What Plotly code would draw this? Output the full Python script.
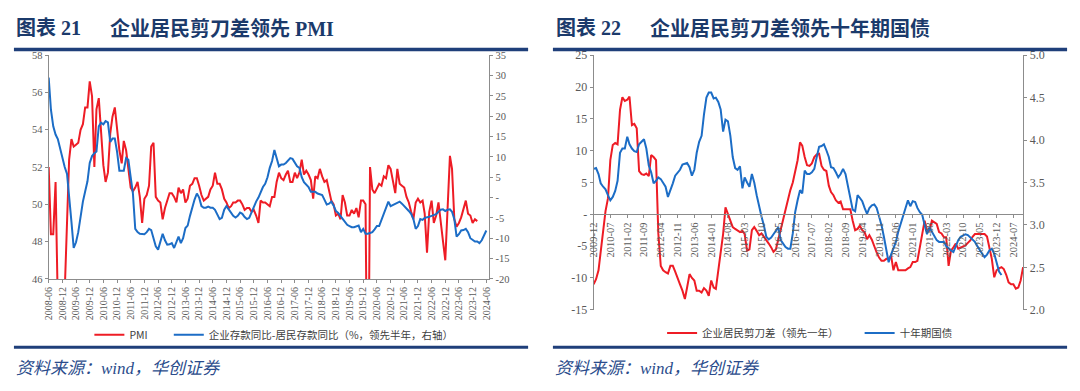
import plotly.graph_objects as go
import pandas as pd

# ---------------- data: left panel (图表21) ----------------
pmi_start = "2008-06-01"
pmi = [52.0, 48.4, 48.4, 51.2, 44.6, 38.8, 41.2,
       45.3, 49.0, 52.4, 53.5, 53.1, 53.2, 53.3, 54.0, 54.3, 55.2, 55.2, 56.6,
       55.8, 52.0, 55.1, 55.7, 53.9, 52.1, 51.2, 51.7, 53.8, 54.7, 55.2, 53.9,
       52.9, 52.2, 53.4, 52.9, 52.0, 50.9, 50.7, 50.9, 51.2, 50.4, 49.0, 50.3,
       50.5, 51.0, 53.1, 53.3, 50.4, 50.2, 50.1, 49.2, 49.8, 50.2, 50.6, 50.6,
       50.4, 50.1, 50.9, 50.6, 50.8, 50.1, 50.3, 51.0, 51.1, 51.4, 51.4, 51.0,
       50.5, 50.2, 50.3, 50.4, 50.8, 51.0, 51.7, 51.1, 51.1, 50.8, 50.3, 50.1,
       49.8, 49.9, 50.1, 50.1, 50.2, 50.2, 50.0, 49.7, 49.8, 49.8, 49.6, 49.7,
       49.4, 49.0, 50.2, 50.1, 50.1, 50.0, 49.9, 50.4, 50.4, 51.2, 51.7, 51.4,
       51.3, 51.6, 51.8, 51.2, 51.2, 51.7, 51.4, 51.7, 52.4, 51.6, 51.8, 51.6,
       51.3, 50.3, 51.5, 51.4, 51.9, 51.5, 51.2, 51.3, 50.8, 50.2, 50.0, 49.4,
       49.5, 49.2, 50.5, 50.1, 49.4, 49.4, 49.7, 49.5, 49.8, 49.3, 50.2, 50.2,
       50.0, 35.7, 52.0, 50.8, 50.6, 50.9, 51.1, 51.0, 51.5, 51.4, 52.1, 51.9,
       51.3, 50.6, 51.9, 51.1, 51.0, 50.9, 50.4, 50.1, 49.6, 49.2, 50.1, 50.3,
       50.1, 50.2, 49.5, 47.4, 49.6, 50.2, 49.0, 49.4, 50.1, 49.2, 48.0, 47.0,
       50.1, 52.6, 51.9, 49.2, 48.8, 49.0, 49.3, 49.7, 50.2, 49.5, 49.4, 49.0,
       49.2, 49.1]

gap_start = "2008-06-01"
deposit_gap = [29.5, 21.6, 17.5, 15.5, 14.4, 12.0, 9.7, 7.5, 5.8, 1.0,
               -6.0, -12.4, -11.0, -8.5, -4.5, -1.0, 1.5, 4.0, 8.5, 10.2,
               10.9, 11.3, 17.5, 18.4, 18.0, 18.8, 18.5, 13.7, 14.5, 14.5,
               11.3, 6.6, 6.6, 6.6, 9.7, 9.3, 5.0, 1.0, -7.7, -8.5,
               -8.9, -9.0, -9.0, -8.5, -7.7, -8.0, -10.0, -12.0, -12.8, -10.5,
               -8.9, -10.5, -11.6, -11.5, -11.2, -12.4, -11.0, -9.6, -11.2, -10.0,
               -7.5, -6.9, -4.5, -2.1, -0.5, 1.0, 0.0, -2.1, -2.5, -2.5,
               -2.2, -2.5, -2.5, -3.0, -4.0, -5.3, -5.0, -3.0, -2.1, -3.0,
               -4.0, -4.5, -4.9, -4.5, -3.7, -4.0, -4.8, -5.3, -5.0, -3.5,
               -2.1, -1.0, 0.0, 1.5, 2.6, 3.4, 5.0, 7.3, 9.0, 11.7,
               10.0, 7.7, 8.1, 8.1, 8.5, 9.2, 9.7, 9.5, 8.5, 7.7,
               7.3, 5.0, 3.8, 3.2, 2.6, 1.4, 1.4, 1.4, 1.0, 0.8,
               0.6, -0.5, -1.7, -1.5, -1.0, -2.0, -3.3, -3.8, -4.5, -5.3,
               -6.1, -6.7, -7.0, -7.3, -7.3, -7.0, -6.9, -8.5, -7.7, -8.9,
               -8.9, -8.7, -8.5, -7.8, -7.0, -7.0, -5.5, -4.1, -2.5, -1.0,
               -2.1, -1.8, -1.5, -1.2, -1.0, -1.5, -2.1, -2.5, -3.3, -4.0,
               -5.3, -7.7, -7.0, -5.3, -5.5, -5.0, -4.9, -4.7, -4.5, -4.3,
               -4.1, -3.5, -3.0, -2.9, -3.3, -3.0, -2.9, -3.5, -5.3, -9.6,
               -9.0, -8.1, -8.0, -7.7, -8.5, -10.0, -10.5, -10.8, -10.8, -11.2,
               -10.5, -9.3, -8.1]

left_y_ticks = [46, 48, 50, 52, 54, 56, 58]
right_y_ticks = [-20, -15, -10, -5, 0, 5, 10, 15, 20, 25, 30, 35]
right_y_text = ["-20", "-15", "-10", "-5", "-", "5", "10", "15", "20", "25", "30", "35"]

# ---------------- data: right panel (图表22) ----------------
right_start = "2009-12-01"
scissor_lead = [-11.0, -10.2, -8.8, -6.0, -3.0, 0.5, 2.5, 8.5, 10.9, 11.2,
                11.0, 16.4, 18.4, 17.8, 18.0, 18.5, 14.0, 14.2, 13.5, 6.8,
                6.3, 6.2, 6.4, 6.0, 9.3, 9.0, 8.5, -3.0, -8.1, -8.8,
                -9.1, -9.3, -8.1, -8.1, -9.0, -9.9, -11.0, -12.0, -13.3, -11.5,
                -9.4, -10.0, -10.4, -12.0, -12.0, -12.3, -11.6, -12.0, -12.8, -10.4,
                -11.5, -11.7, -8.6, -6.2, -3.1, 1.1, 0.0, -1.0, -2.0, -2.3,
                -2.6, -2.8, -2.6, -3.1, -5.7, -5.5, -2.5, -2.0, -2.6, -3.3,
                -3.0, -3.5, -4.0, -4.6, -5.2, -5.9, -5.5, -4.0, -2.5, -1.0,
                1.0, 2.5, 3.8, 5.0, 6.5, 8.5, 11.3, 10.8, 9.0, 7.7,
                7.6, 8.0, 9.0, 9.4, 9.5, 7.6, 7.0, 6.8, 4.5, 3.5,
                3.0, 2.2, 1.8, 2.0, 0.8, 0.8, 0.8, 0.8, -1.0, -2.5,
                -2.3, -1.8, -2.5, -2.8, -3.9, -3.3, -4.0, -5.2, -6.0, -6.8,
                -7.3, -7.3, -7.0, -7.0, -6.5, -8.8, -7.5, -8.8, -8.8, -8.8,
                -8.8, -8.5, -8.3, -7.5, -7.5, -7.3, -5.2, -3.1, -1.0, -2.6,
                -2.6, -1.0, -1.2, -1.5, -2.8, -3.0, -3.6, -3.6, -8.1, -5.7,
                -5.2, -4.6, -5.4, -5.2, -5.0, -4.9, -4.5, -4.1, -3.5, -3.1,
                -3.1, -3.1, -3.1, -3.1, -3.5, -5.2, -7.0, -9.9, -8.8, -8.5,
                -8.3, -8.6, -9.5, -10.7, -11.0, -11.0, -11.7, -11.5, -10.4, -8.3]

cgb10y = [3.66, 3.67, 3.60, 3.49, 3.45, 3.42, 3.35, 3.29, 3.33, 3.40,
          3.52, 3.85, 3.90, 3.90, 4.04, 3.95, 3.90, 3.87, 3.86, 3.95,
          3.98, 4.01, 3.90, 3.70, 3.62, 3.49, 3.52, 3.56, 3.54, 3.50,
          3.45, 3.33, 3.40, 3.49, 3.58, 3.62, 3.65, 3.71, 3.72, 3.73,
          3.68, 3.58, 3.65, 3.85, 3.98, 4.05, 4.30, 4.50, 4.56, 4.56,
          4.49, 4.50, 4.45, 4.36, 4.10, 4.24, 4.22, 4.05, 3.80, 3.67,
          3.65, 3.69, 3.43, 3.56, 3.50, 3.45, 3.60, 3.50, 3.35, 3.20,
          3.10, 2.99, 2.86, 2.83, 2.85, 2.89, 2.93, 2.97, 2.82, 2.78,
          2.74, 2.72, 2.72, 2.90, 3.15, 3.29, 3.41, 3.37, 3.64, 3.60,
          3.60, 3.62, 3.66, 3.80, 3.92, 3.93, 3.95, 3.88, 3.80, 3.68,
          3.67, 3.62, 3.56, 3.60, 3.66, 3.60, 3.45, 3.30, 3.18, 3.16,
          3.35, 3.32, 3.28, 3.20, 3.13, 3.20, 3.23, 3.24, 3.20, 3.10,
          3.00, 2.86, 2.68, 2.56, 2.65, 2.72, 2.80, 2.92, 3.02, 3.12,
          3.20, 3.29, 3.22, 3.28, 3.27, 3.20, 3.15, 3.12, 3.00, 2.89,
          2.97, 2.92, 2.87, 2.82, 2.80, 2.80, 2.80, 2.75, 2.72, 2.70,
          2.68, 2.76, 2.82, 2.86, 2.88, 2.89, 2.88, 2.85, 2.82, 2.80,
          2.75, 2.70, 2.66, 2.62, 2.65, 2.70, 2.72, 2.66, 2.55, 2.45,
          2.41]

r_left_ticks = [-15, -10, -5, 0, 5, 10, 15, 20, 25]
r_left_text = ["-15", "-10", "-5", "-", "5", "10", "15", "20", "25"]
r_right_ticks = [2.0, 2.5, 3.0, 3.5, 4.0, 4.5, 5.0]

# ---------------- layout helpers ----------------
W, H = 1080, 391


def fx(x):
    return x / W


def fy(y):
    return (H - y) / H


RED = "#EE1C25"
BLUE = "#1C6DC6"
AXIS = "#8C8C8C"
TICK = "#595959"
NAVY = "#1F3F7A"
SERIF = "Liberation Serif, Noto Sans CJK SC, serif"
CJK = "Noto Sans CJK SC, sans-serif"


def months(start, n):
    return pd.date_range(start, periods=n, freq="MS")


fig = go.Figure()
fig.add_trace(go.Scatter(x=months(pmi_start, len(pmi)), y=pmi, name="PMI",
                         mode="lines", line=dict(color=RED, width=2),
                         xaxis="x", yaxis="y", legend="legend"))
fig.add_trace(go.Scatter(x=months(gap_start, len(deposit_gap)), y=deposit_gap,
                         name="企业存款同比-居民存款同比（%，领先半年，右轴）",
                         mode="lines", line=dict(color=BLUE, width=2),
                         xaxis="x", yaxis="y2", legend="legend3"))
fig.add_trace(go.Scatter(x=months(right_start, len(scissor_lead)), y=scissor_lead,
                         name="企业居民剪刀差（领先一年）",
                         mode="lines", line=dict(color=RED, width=2),
                         xaxis="x2", yaxis="y3", legend="legend2"))
fig.add_trace(go.Scatter(x=months(right_start, len(cgb10y)), y=cgb10y,
                         name="十年期国债",
                         mode="lines", line=dict(color=BLUE, width=2),
                         xaxis="x2", yaxis="y4", legend="legend4"))

# panel geometry (pixels)
L_x0, L_x1, L_y0, L_y1 = 43, 487, 50, 282
R_x0, R_x1, R_y0, R_y1 = 592, 1025, 50, 314

r_ydom = [fy(R_y1), fy(R_y0)]
r_lo, r_hi = -15, 25
zero_pos = r_ydom[0] + (0 - r_lo) / (r_hi - r_lo) * (r_ydom[1] - r_ydom[0])

common_axis = dict(showgrid=False, zeroline=False, showline=True,
                   linecolor=AXIS, linewidth=1, ticks="outside", ticklen=3,
                   tickcolor=AXIS)


def tf(size):
    return dict(family=SERIF, size=size, color=TICK)


def leg(x, y):
    return dict(orientation="h", x=fx(x), y=fy(y), xanchor="left", yanchor="middle",
                bgcolor="rgba(0,0,0,0)", borderwidth=0,
                font=dict(family=CJK, size=10.5, color="#404040"), itemwidth=30)


fig.update_layout(
    width=W, height=H, autosize=False,
    margin=dict(l=0, r=0, t=0, b=0),
    paper_bgcolor="white", plot_bgcolor="rgba(0,0,0,0)",
    xaxis=dict(domain=[fx(L_x0), fx(L_x1)], anchor="y", type="date",
               range=["2008-06-01", "2024-07-12"], tick0="2008-06-01", dtick="M6",
               tickformat="%Y-%m", tickangle=-90, tickfont=tf(10), **common_axis),
    yaxis=dict(domain=[fy(L_y1), fy(L_y0)], anchor="x", range=[46, 58],
               tickvals=left_y_ticks, tickfont=tf(10.5), **common_axis),
    yaxis2=dict(overlaying="y", side="right", anchor="x", range=[-20, 35],
                tickvals=right_y_ticks, ticktext=right_y_text, tickfont=tf(10.5),
                **common_axis),
    xaxis2=dict(domain=[fx(R_x0), fx(R_x1)], anchor="free", position=zero_pos,
                type="date", range=["2009-12-01", "2024-11-05"],
                tick0="2009-12-01", dtick="M7", tickformat="%Y-%m", tickangle=-90,
                tickfont=tf(10.5), **common_axis),
    yaxis3=dict(domain=r_ydom, anchor="x2", range=[r_lo, r_hi],
                tickvals=r_left_ticks, ticktext=r_left_text, tickfont=tf(12),
                **common_axis),
    yaxis4=dict(overlaying="y3", side="right", anchor="x2", range=[2.0, 5.0],
                tickvals=r_right_ticks, tickformat=".1f", tickfont=tf(12),
                **common_axis),
    legend=leg(84, 340),
    legend3=leg(164, 340),
    legend2=leg(661, 338),
    legend4=leg(860, 338),
    showlegend=True,
)

# titles, rules, sources
shapes = []
for x0, x1 in [(8, 526), (551, 1069)]:
    shapes.append(dict(type="line", xref="paper", yref="paper", x0=fx(x0), x1=fx(x1),
                       y0=fy(44), y1=fy(44), line=dict(color=NAVY, width=3.5)))
    shapes.append(dict(type="line", xref="paper", yref="paper", x0=fx(x0), x1=fx(x1),
                       y0=fy(353), y1=fy(353), line=dict(color=NAVY, width=3)))
fig.update_layout(shapes=shapes)

TITLE_FONT = dict(family="Liberation Serif, Noto Sans CJK SC", size=20, color="#1B3A6B")
anns = [
    dict(text="<b>图表 21</b>", x=fx(8), y=fy(22)),
    dict(text="<b>企业居民剪刀差领先 PMI</b>", x=fx(103), y=fy(22)),
    dict(text="<b>图表 22</b>", x=fx(552), y=fy(22)),
    dict(text="<b>企业居民剪刀差领先十年期国债</b>", x=fx(647), y=fy(22)),
]
for a in anns:
    fig.add_annotation(xref="paper", yref="paper", xanchor="left", yanchor="middle",
                       showarrow=False, font=TITLE_FONT, **a)
for x in (8, 551):
    fig.add_annotation(xref="paper", yref="paper", xanchor="left", yanchor="middle",
                       showarrow=False, x=fx(x), y=fy(375),
                       text="<i>资料来源：wind，华创证券</i>",
                       font=dict(family="Liberation Serif, Noto Sans CJK SC", size=17,
                                 color="#2B4C8C"))

fig.write_html("out.html", config={"responsive": False, "displayModeBar": False},
               default_width="1080px", default_height="391px",
               post_script="document.body.style.margin='0';document.body.style.overflow='hidden';")
